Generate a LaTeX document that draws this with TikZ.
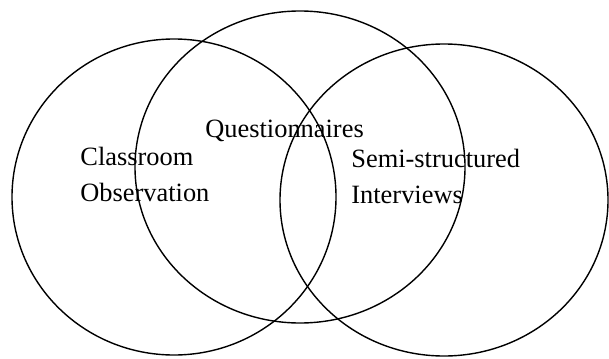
\documentclass[tikz,border=0pt]{standalone}
\usepackage{fontspec}
\setmainfont{Liberation Serif}
\tikzset{
  setring/.style={line width=0.7pt},
  setlabel/.style={anchor=base west, align=left, inner sep=0pt,
    font=\fontsize{13.2}{18}\selectfont}
}
\begin{document}
\begin{tikzpicture}[x=0.5pt, y=-0.5pt]
    \useasboundingbox (0, 0) rectangle (609, 358);
    \draw[setring] (174, 197) ellipse [x radius=162, y radius=158];
    \draw[setring] (300, 167) ellipse [x radius=165, y radius=156];
    \draw[setring] (444, 200) ellipse [x radius=164, y radius=156];
    \node[setlabel] (quest) at (205, 137) {Questionnaires};
    \node[setlabel] (obs)   at (80, 201)  {Classroom\\Observation};
    \node[setlabel] (inter) at (351, 203) {Semi-structured\\Interviews};
  \end{tikzpicture}
\end{document}
